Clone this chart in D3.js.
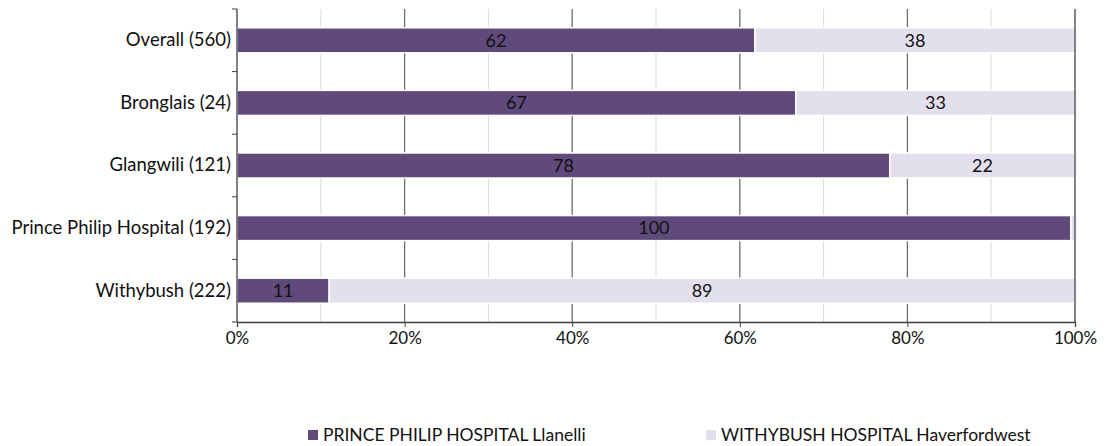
<!DOCTYPE html>
<html><head><meta charset="utf-8">
<script src="https://cdn.jsdelivr.net/npm/d3@7"></script>
<style>body{margin:0;background:#fff}svg{display:block}text{font-family:Lato,"Open Sans",sans-serif}</style>
</head><body><svg id="c" width="1108" height="446"></svg>
<script>
const categories = ["Overall (560)", "Bronglais (24)", "Glangwili (121)", "Prince Philip Hospital (192)", "Withybush (222)"];
const princePhilip = [61.8, 66.7, 77.9, 99.5, 11.0];
const withybush = [38.2, 33.3, 22.1, 0.5, 89.0];
const princePhilipLabels = ["62", "67", "78", "100", "11"];
const withybushLabels = ["38", "33", "22", "", "89"];
const seriesNames = ["PRINCE PHILIP HOSPITAL Llanelli", "WITHYBUSH HOSPITAL Haverfordwest"];
const colors = ["#604a7b", "#e4dfec"];
const xTicks = [0, 20, 40, 60, 80, 100];
const minorTicks = [10, 30, 50, 70, 90];

const svg = d3.select("#c");
const L = 237, R = 1075, T = 9, B = 322;
const x = d3.scaleLinear().domain([0, 100]).range([L, R]);
const y = d3.scaleBand().domain(categories).range([T, B]).paddingInner(0.6).paddingOuter(0.3);
const yb = d3.scaleBand().domain(categories).range([T, B]);
const FF = "Lato,'Open Sans',sans-serif";

// gridlines
svg.append("g").selectAll("line").data(minorTicks).join("line")
  .attr("x1", d => x(d)).attr("x2", d => x(d)).attr("y1", T).attr("y2", B)
  .attr("stroke", "#d9d9d9").attr("stroke-width", 1);
svg.append("g").selectAll("line").data(xTicks.slice(1, -1)).join("line")
  .attr("x1", d => x(d)).attr("x2", d => x(d)).attr("y1", T).attr("y2", B)
  .attr("stroke", "#6e6e6e").attr("stroke-width", 1.3);

// bars
const rows = categories.map((c, i) => ({c, a: princePhilip[i], b: withybush[i], la: princePhilipLabels[i], lb: withybushLabels[i]}));
const g = svg.append("g");
g.selectAll("rect.a").data(rows).join("rect").attr("class", "a")
  .attr("x", x(0)).attr("y", d => y(d.c)).attr("width", d => x(d.a) - x(0)).attr("height", y.bandwidth())
  .attr("fill", colors[0]).attr("stroke", "#fff").attr("stroke-width", 1.5);
g.selectAll("rect.b").data(rows).join("rect").attr("class", "b")
  .attr("x", d => x(d.a)).attr("y", d => y(d.c)).attr("width", d => x(d.a + d.b) - x(d.a)).attr("height", y.bandwidth())
  .attr("fill", colors[1]).attr("stroke", "#fff").attr("stroke-width", 1.5);
g.selectAll("text.a").data(rows).join("text").attr("class", "a")
  .attr("x", d => x(d.a / 2)).attr("y", d => y(d.c) + y.bandwidth() / 2).attr("dy", "0.35em")
  .attr("text-anchor", "middle").attr("font-size", 18).attr("fill", "#111").text(d => d.la);
g.selectAll("text.b").data(rows).join("text").attr("class", "b")
  .attr("x", d => x(d.a + d.b / 2)).attr("y", d => y(d.c) + y.bandwidth() / 2).attr("dy", "0.35em")
  .attr("text-anchor", "middle").attr("font-size", 18).attr("fill", "#111").text(d => d.lb);

// axes
const xa = svg.append("g").attr("transform", `translate(0,${B})`)
  .call(d3.axisBottom(x).tickValues(xTicks).tickFormat(d => d + "%").tickSize(5).tickPadding(5));
xa.select(".domain").attr("stroke", "#404040").attr("stroke-width", 1.3);
xa.selectAll(".tick line").attr("stroke", "#404040");
xa.selectAll("text").attr("font-size", 17).attr("fill", "#111").attr("font-family", FF);

const ya = svg.append("g").attr("transform", `translate(${L},0)`)
  .call(d3.axisLeft(y).tickSize(0).tickPadding(6));
ya.select(".domain").remove();
ya.selectAll("text").attr("font-size", 18.5).attr("fill", "#111").attr("font-family", FF);
svg.append("line").attr("x1", L).attr("x2", L).attr("y1", T).attr("y2", B).attr("stroke", "#404040").attr("stroke-width", 1.3);
svg.append("g").selectAll("line").data(categories.concat(["__end"]).map((c, i) => T + i * yb.step())).join("line")
  .attr("x1", L - 5).attr("x2", L).attr("y1", d => d).attr("y2", d => d).attr("stroke", "#404040");
svg.append("line").attr("x1", R).attr("x2", R).attr("y1", T).attr("y2", B).attr("stroke", "#404040").attr("stroke-width", 1.3);

// legend
const legX = [308, 706];
const lg = svg.append("g").selectAll("g").data(seriesNames).join("g")
  .attr("transform", (d, i) => `translate(${legX[i]},430)`);
lg.append("rect").attr("width", 10).attr("height", 10).attr("fill", (d, i) => colors[i]);
lg.append("text").attr("x", 15).attr("y", 5).attr("dy", "0.35em").attr("font-size", 17.5).attr("fill", "#111").text(d => d);
</script></body></html>
